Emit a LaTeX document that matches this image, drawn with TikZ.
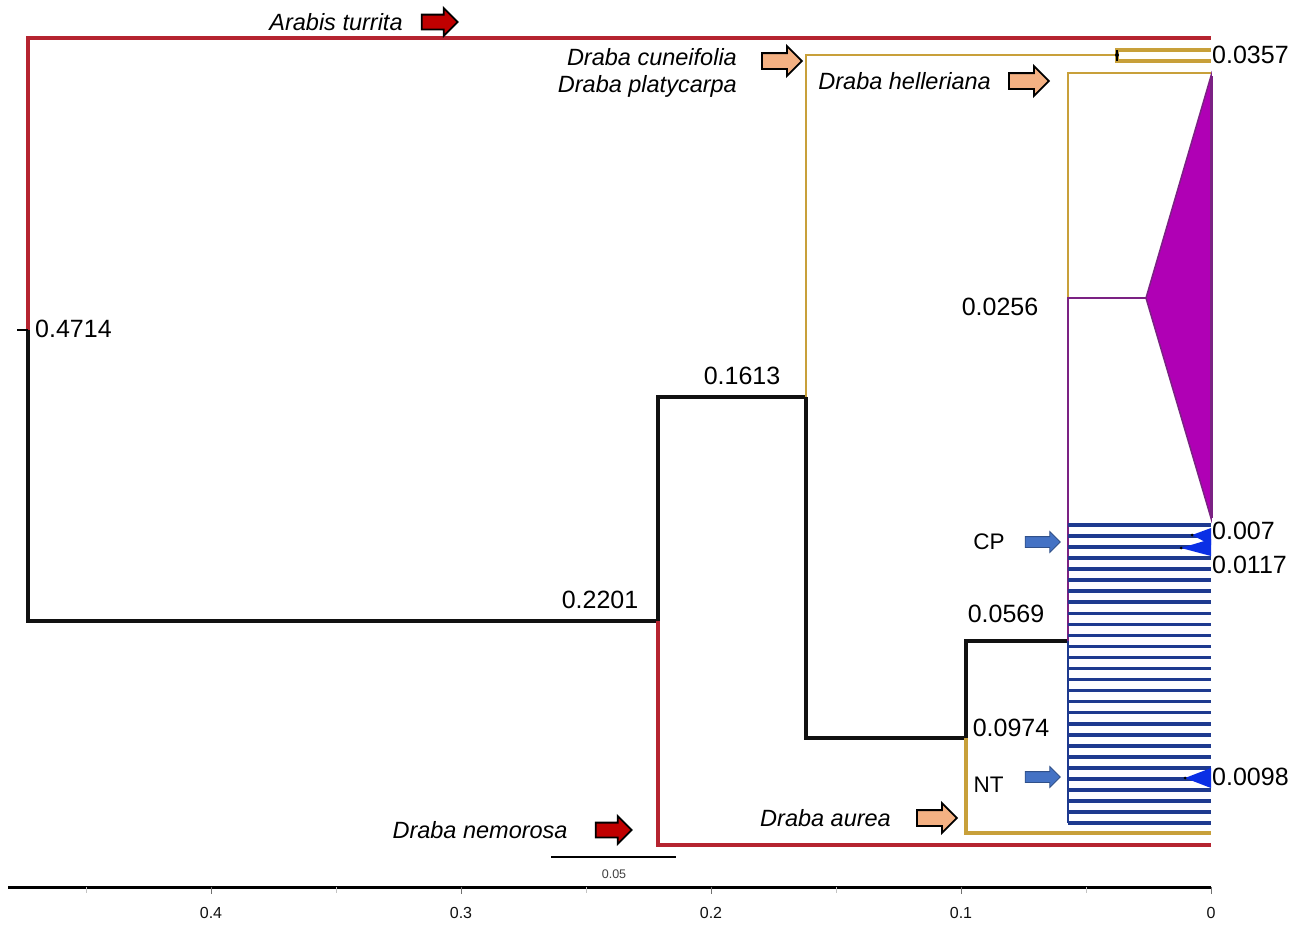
\documentclass[tikz,border=0pt]{standalone}
\usepackage{fontspec}
\setmainfont{Liberation Sans}
\usetikzlibrary{arrows.meta,positioning,shapes.arrows}
\definecolor{ink}{HTML}{111111}
\definecolor{outred}{HTML}{B52430}
\definecolor{gold}{HTML}{C8A03A}
\definecolor{plum}{HTML}{7B2283}
\definecolor{cladefill}{HTML}{B000B5}
\definecolor{navy}{HTML}{1E3A8F}
\definecolor{tipblue}{HTML}{0A2FE5}
\definecolor{arrred}{HTML}{C00000}
\definecolor{arrpeach}{HTML}{F4B183}
\definecolor{arrblue}{HTML}{4472C4}

\begin{document}
\begin{tikzpicture}[
  x=1pt, y=-1pt,
  br/.style={line width=3.2pt, draw=ink},
  brred/.style={br, draw=outred},
  brgold/.style={br, draw=gold},
  brplum/.style={br, draw=plum},
  leaf/.style={line width=3.6pt, draw=navy},
  num/.style={inner sep=0pt, font=\fontsize{25}{30}\selectfont},
  sp/.style={inner sep=0pt, font=\fontsize{23.5}{27}\selectfont\itshape, align=right},
  tag/.style={inner sep=0pt, font=\fontsize{22.5}{27}\selectfont},
  axlab/.style={inner sep=0pt, text=ink, font=\fontsize{16}{18}\selectfont},
  blk/.style={single arrow, draw=black, line width=1.8pt, inner xsep=0pt, inner ysep=6.5pt,
              single arrow head extend=6.5pt, minimum height=36pt},
  redarr/.style={blk, fill=arrred},
  peacharr/.style={blk, fill=arrpeach, minimum height=40pt, inner ysep=7pt, single arrow head extend=7pt},
  bluearr/.style={blk, fill=arrblue, draw=arrblue!70!black, line width=.8pt,
                  inner ysep=5pt, single arrow head extend=5pt, minimum height=35pt},
]
\useasboundingbox[fill=white] (0,0) rectangle (1309,924);

%% ---------------- tree nodes ----------------
\coordinate (n0) at (28,330);
\coordinate (stub) at (17,330);
\coordinate (n1) at (658,621);
\coordinate (n2) at (806,397);
\coordinate (n3) at (1117,55);
\coordinate (n4) at (966,738);
\coordinate (n5) at (1068,641);
\coordinate (n6) at (1146,298);

\coordinate (tArabis) at (1211,38);
\coordinate (tNem) at (1211,845);
\coordinate (tCun) at (1211,50);
\coordinate (tPla) at (1211,61);
\coordinate (tAur) at (1211,833);
\coordinate (tHel) at (1211,73);
\coordinate (trTop) at (1211,76);
\coordinate (trBot) at (1211,518);

%% ---------------- branches ----------------
\draw[brred]  (n0) |- (tArabis);
\draw[br]     (n0) |- (n1);
\draw[line width=1.5pt] (stub) -- (n0);
\draw[brred]  (n1) |- (tNem);
\draw[br]     (n1) |- (n2);
\draw[brgold, line width=2.8pt] (n2) |- (n3);
\draw[br]     (n2) |- (n4);
\draw[brgold, line width=4.5pt] (n3) |- (tCun);
\draw[brgold, line width=4.5pt] (n3) |- (tPla);
\draw[line width=1.5pt] (n3 |- tCun) -- (n3 |- tPla);
\fill (n3) circle (2);
\draw[brgold] (n4) |- (tAur);
\draw[br]     (n4) |- (n5);
\draw[brgold, line width=2.4pt] (n6 -| n5) |- (tHel);
\draw[brplum, line width=2.8pt] (n5) |- (n6);

%% collapsed clade
\filldraw[fill=cladefill, draw=plum, line width=1.5pt] (n6) -- (trTop) -- (trBot) -- cycle;
\draw[plum, line width=3pt] (trTop) -- (trBot);

%% blue leaves
\foreach \k in {0,...,27} {
  \coordinate (lf\k) at (1211,{525+11.04*\k});
  \draw[leaf] (lf\k -| n5) -- (lf\k);
}
\draw[navy, line width=2.8pt] (n5) -- (n5 |- lf27);
\fill[tipblue] (1192,535) -- (1211,528) -- (1211,545) -- cycle;
\fill[tipblue] (1181,548) -- (1211,539) -- (1211,556) -- cycle;
\fill[tipblue] (1185,778) -- (1211,768) -- (1211,788) -- cycle;
\fill (1192,535) circle (1.5) (1181,548) circle (1.5) (1185,778) circle (1.5);

%% ---------------- node values ----------------
\node[num, anchor=west] (v0) at (35,329) {0.4714};
\node[num] (v1) at (600,600) {0.2201};
\node[num] (v2) at (742,376) {0.1613};
\node[num] (v4) at (1011,728) {0.0974};
\node[num] (v5) at (1006,614) {0.0569};
\node[num] (v6) at (1000,307) {0.0256};
\node[num, anchor=west] (v3) at (1212,55) {0.0357};
\node[num, anchor=west] (w1) at (1212,531) {0.007};
\node[num, anchor=west] (w2) at (1212,565) {0.0117};
\node[num, anchor=west] (w3) at (1212,777) {0.0098};

%% ---------------- taxon labels ----------------
\node[redarr] (aA) at (436,22) {};
\node[sp, left=18pt of aA] (lA) {Arabis turrita};
\node[peacharr] (aC) at (778,61) {};
\node[sp, left=24pt of aC, yshift=-12pt] (lC) {Draba cuneifolia\\Draba platycarpa};
\node[peacharr] (aH) at (1025,81) {};
\node[sp, left=17pt of aH] (lH) {Draba helleriana};
\node[redarr] (aN) at (610,830) {};
\node[sp, left=27pt of aN] (lN) {Draba nemorosa};
\node[peacharr] (aU) at (933,818) {};
\node[sp, left=25pt of aU] (lU) {Draba aurea};
\node[bluearr] (aCP) at (1040,542) {};
\node[tag, left=20pt of aCP] (lCP) {CP};
\node[bluearr] (aNT) at (1040,777) {};
\node[tag, left=21pt of aNT, yshift=-8pt] (lNT) {NT};

%% ---------------- scale bar ----------------
\coordinate (sb0) at (551,857);
\coordinate (sb1) at (676,857);
\draw[line width=2.5pt] (sb0) -- (sb1);
\node[inner sep=0pt, text=ink!80, font=\fontsize{12.5}{14}\selectfont] (sbl) at (614,874) {0.05};

%% ---------------- distance axis ----------------
\coordinate (ax0) at (8,887);
\coordinate (ax1) at (1211,887);
\draw[line width=3pt] (ax0) -- (ax1);
\foreach \d/\t in {0/0, 1/0.1, 2/0.2, 3/0.3, 4/0.4} {
  \draw[line width=1pt, draw=ink!60] ({1211-250*\d},887) -- ++(0,7);
  \node[axlab] (ax\d) at ({1211-250*\d},913) {\t};
}
\foreach \d in {0,...,4} \draw[line width=.8pt, draw=ink!25] ({1086-250*\d},887) -- ++(0,6);

\end{tikzpicture}
\end{document}
